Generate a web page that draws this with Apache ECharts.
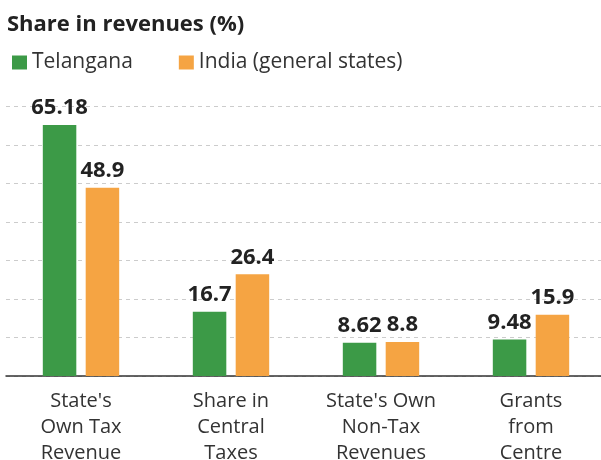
<!DOCTYPE html>
<html><head><meta charset="utf-8">
<script src="https://cdn.jsdelivr.net/npm/echarts@6/dist/echarts.min.js"></script>
<style>html,body{margin:0;padding:0;background:#fff}#c{width:601px;height:460px}</style>
</head><body><div id="c"></div>
<script>
const categories = ["State's\nOwn Tax\nRevenue", "Share in\nCentral\nTaxes", "State's Own\nNon-Tax\nRevenues", "Grants\nfrom\nCentre"];
const telangana = [65.18, 16.7, 8.62, 9.48];
const india = [48.9, 26.4, 8.8, 15.9];
const seriesNames = ['Telangana', 'India (general states)'];
const FONT = 'Open Sans';
const chart = echarts.init(document.getElementById('c'));
const lbl = {show: true, position: 'top', distance: 6, fontFamily: FONT, fontWeight: 'bold', fontSize: 22, color: '#222'};
chart.setOption({
  animation: false,
  textStyle: {fontFamily: FONT},
  title: {text: 'Share in revenues (%)', left: 2, top: 9, textStyle: {fontFamily: FONT, fontWeight: 'bold', fontSize: 22, color: '#222'}},
  legend: {left: 7, top: 47, icon: 'rect', itemWidth: 15, itemHeight: 14, itemGap: 46,
    textStyle: {fontFamily: FONT, fontSize: 21, color: '#333'}, data: seriesNames},
  grid: {left: 6, right: -5, top: 106.5, bottom: 84, outerBoundsMode: 'none'},
  xAxis: {type: 'category', data: categories,
    axisLine: {lineStyle: {color: '#333', width: 1.5}}, axisTick: {show: false},
    axisLabel: {fontFamily: FONT, fontSize: 20, lineHeight: 26, color: '#333', margin: 12, interval: 0}},
  yAxis: {type: 'value', min: 0, max: 70, interval: 10, axisLabel: {show: false},
    axisLine: {show: false}, axisTick: {show: false},
    splitLine: {lineStyle: {color: '#ccc', type: [4, 4]}}},
  series: [
    {name: seriesNames[0], type: 'bar', data: telangana, barWidth: 33.5, barGap: '28%', itemStyle: {color: '#3c9a47'}, label: lbl},
    {name: seriesNames[1], type: 'bar', data: india, barWidth: 33.5, itemStyle: {color: '#f5a443'}, label: lbl}
  ]
});
</script></body></html>
